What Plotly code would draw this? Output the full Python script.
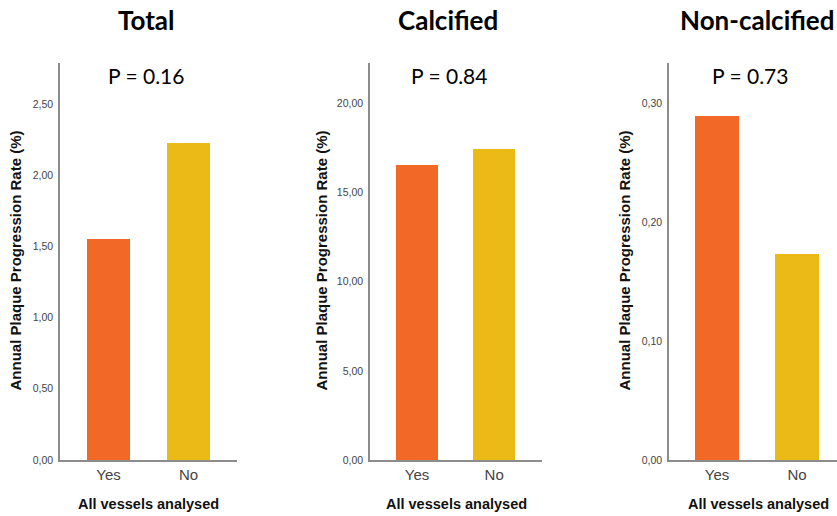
import plotly.graph_objects as go

categories = ["Yes", "No"]
total_values = [1.55, 2.23]
calcified_values = [16.57, 17.42]
noncalcified_values = [0.289, 0.173]
panel_titles = ["Total", "Calcified", "Non-calcified"]
p_labels = ["P = 0.16", "P = 0.84", "P = 0.73"]
y_ticks_total = [0, 0.5, 1.0, 1.5, 2.0, 2.5]
y_ticks_calc = [0, 5, 10, 15, 20]
y_ticks_noncalc = [0, 0.1, 0.2, 0.3]
y_axis_title = "Annual Plaque Progression Rate (%)"
x_axis_title = "All vessels analysed"

W, H = 837, 516
HE = 509.0  # effective rendered height used for vertical placement
bar_colors = ["#F26826", "#EBBA16"]
axis_color = "#8c8c8c"


def py(pix):
    return 1 - pix / HE


panels = [
    dict(vals=total_values, ticks=y_ticks_total, yr=[0, 2.79], x0=60, x1=237, xr=[-0.606, 1.606],
         title_x=146, p_x=146, ytitle_x=16, xtitle_x=148),
    dict(vals=calcified_values, ticks=y_ticks_calc, yr=[0, 22.27], x0=370, x1=542, xr=[-0.61, 1.62],
         title_x=448, p_x=449, ytitle_x=322, xtitle_x=456),
    dict(vals=noncalcified_values, ticks=y_ticks_noncalc, yr=[0, 0.334], x0=669, x1=837, xr=[-0.6, 1.5],
         title_x=757, p_x=750, ytitle_x=625, xtitle_x=758),
]

y_bot, y_top = 459, 63
fig = go.Figure()
annotations = []
for i, p in enumerate(panels):
    n = "" if i == 0 else str(i + 1)
    fig.add_trace(go.Bar(
        x=categories, y=p["vals"], xaxis="x" + n, yaxis="y" + n,
        marker=dict(color=bar_colors, line=dict(width=0)), width=0.54, showlegend=False,
        hoverinfo="x+y",
    ))
    fig.layout["xaxis" + n] = dict(
        domain=[p["x0"] / W, p["x1"] / W], range=p["xr"], anchor="y" + n,
        showline=True, linecolor=axis_color, linewidth=1.5, showgrid=False, ticks="",
        tickfont=dict(family="Liberation Sans, Arial", size=15, color="#444444"),
        zeroline=False, fixedrange=True,
    )
    fig.layout["yaxis" + n] = dict(
        domain=[py(y_bot), py(y_top)], range=p["yr"], anchor="x" + n,
        showline=True, linecolor=axis_color, linewidth=1.5, showgrid=False, ticks="",
        tickvals=p["ticks"], tickformat=".2f", ticklabelstandoff=3,
        tickfont=dict(family="Liberation Sans, Arial", size=10.5, color="#444444"),
        zeroline=False, fixedrange=True,
    )
    annotations.append(dict(
        text="<b>" + panel_titles[i] + "</b>", x=p["title_x"] / W, y=py(20),
        xref="paper", yref="paper", showarrow=False, xanchor="center", yanchor="middle",
        font=dict(family="Lato, Open Sans, sans-serif", size=26, color="#000000"),
    ))
    annotations.append(dict(
        text=p_labels[i], x=p["p_x"] / W, y=py(75),
        xref="paper", yref="paper", showarrow=False, xanchor="center", yanchor="middle",
        font=dict(family="Lato, Open Sans, sans-serif", size=21, color="#000000"),
    ))
    annotations.append(dict(
        text="<b>" + y_axis_title + "</b>", x=p["ytitle_x"] / W, y=py(260), textangle=-90,
        xref="paper", yref="paper", showarrow=False, xanchor="center", yanchor="middle",
        font=dict(family="Liberation Sans, Arial", size=15, color="#111111"),
    ))
    annotations.append(dict(
        text="<b>" + x_axis_title + "</b>", x=p["xtitle_x"] / W, y=py(503),
        xref="paper", yref="paper", showarrow=False, xanchor="center", yanchor="middle",
        font=dict(family="Liberation Sans, Arial", size=14.5, color="#111111"),
    ))

fig.update_layout(
    width=W, height=H, autosize=False, margin=dict(l=0, r=0, t=0, b=0),
    paper_bgcolor="white", plot_bgcolor="white", separators=",.",
    annotations=annotations, bargap=0,
)
fig.write_html("out.html", config={"displayModeBar": False, "responsive": False},
               post_script="document.body.style.margin='0px';document.body.style.overflow='hidden';")
